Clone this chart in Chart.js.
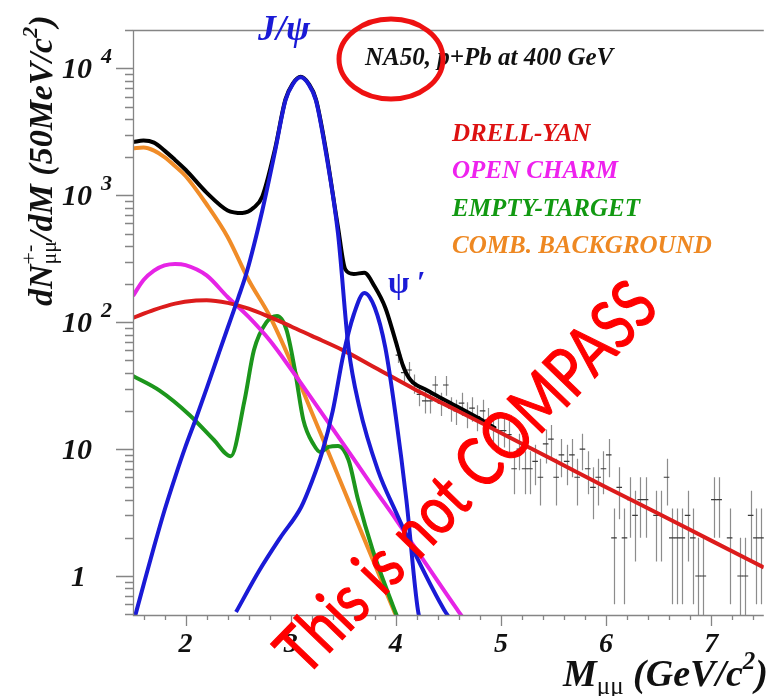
<!DOCTYPE html>
<html>
<head>
<meta charset="utf-8">
<script src="https://cdn.jsdelivr.net/npm/chart.js@4.4.1/dist/chart.umd.min.js"></script>
<style>
  html, body { margin: 0; padding: 0; background: #fff; overflow: hidden; }
  canvas { display: block; }
</style>
</head>
<body>
<canvas id="massChart" width="769" height="696"></canvas>
<script>
// NA50 p+Pb at 400 GeV, dimuon mass spectrum (yield per 50 MeV/c^2)

const dyMass = [1.5, 1.7, 1.9, 2.1, 2.2, 2.4, 2.6, 2.8, 3.0, 3.2, 3.5, 3.8, 4.2, 4.6, 5.0, 5.5, 6.0, 6.5, 7.0, 7.5];
const dyYield = [108, 125, 140, 148, 149, 142, 128, 110, 93, 78, 60, 44, 29, 19.8, 13.4, 8.2, 5.0, 3.1, 1.9, 1.17];

const charmMass = [1.5, 1.6, 1.7, 1.8, 1.9, 2.0, 2.2, 2.4, 2.6, 2.8, 3.0, 3.2, 3.5, 3.8, 4.0, 4.3, 4.6, 4.7];
const charmYield = [161, 215, 255, 280, 288, 282, 234, 158, 110, 72, 43, 25, 11, 4.8, 2.8, 1.2, 0.52, 0.4];

const emptyMass = [1.5, 1.75, 2.04, 2.27, 2.43, 2.56, 2.65, 2.77, 2.87, 2.96, 3.04, 3.12, 3.22, 3.28, 3.36, 3.45, 3.55, 3.64, 3.78, 3.97, 4.05];
const emptyYield = [37.7, 29, 18.5, 11.8, 8.8, 24, 60, 100, 112, 87, 42, 17, 10.8, 9.5, 10.4, 10.6, 8.2, 4, 1.6, 0.59, 0.4];

const combMass = [1.5, 1.6, 1.7, 1.8, 1.9, 2.0, 2.2, 2.4, 2.6, 2.8, 3.0, 3.2, 3.4, 3.6, 3.8, 4.0];
const combYield = [2350, 2380, 2250, 2000, 1700, 1420, 850, 470, 215, 112, 49, 19.5, 7.8, 3.1, 1.23, 0.49];

const jpsiMass = [1.5, 1.6, 1.7, 1.8, 1.9, 2.0, 2.1, 2.2, 2.3, 2.4, 2.5, 2.58, 2.73, 2.85, 2.95, 3.02, 3.095, 3.17, 3.24, 3.33, 3.45, 3.55, 3.65, 3.83, 4.0, 4.2, 4.46, 4.55];
const jpsiYield = [0.42, 0.85, 1.7, 3.3, 6.0, 10.5, 17.5, 30, 52, 90, 155, 245, 760, 2200, 5600, 7500, 8500, 7500, 5600, 2300, 500, 63, 22, 6.8, 3.2, 1.4, 0.54, 0.42];

const psiPMass = [2.48, 2.7, 2.9, 3.1, 3.2, 3.3, 3.4, 3.5, 3.6, 3.7, 3.8, 3.9, 4.0, 4.1, 4.21, 4.3];
const psiPYield = [0.52, 1.1, 2.0, 3.5, 5.5, 9.5, 20, 55, 115, 170, 130, 63, 18, 4, 0.54, 0.3];

const fitMass = [1.5, 1.6, 1.7, 1.8, 1.9, 2.0, 2.2, 2.4, 2.54, 2.65, 2.73, 2.85, 2.95, 3.02, 3.095, 3.17, 3.24, 3.33, 3.45, 3.52, 3.6, 3.7, 3.8, 3.9, 3.99, 4.07, 4.14, 4.3, 4.46, 4.77, 4.95];
const fitYield = [2630, 2700, 2600, 2250, 1900, 1590, 1050, 760, 725, 800, 980, 2300, 5700, 7600, 8600, 7600, 5700, 2400, 560, 260, 240, 245, 190, 130, 75, 45, 35, 29, 24.5, 17.8, 14.5];

// measured points above 4 GeV (bin centres, counts, vertical errors)
const binMass = [
  4.025, 4.075, 4.125, 4.175, 4.225, 4.275, 4.325, 4.375, 4.425, 4.475,
  4.525, 4.575, 4.625, 4.675, 4.725, 4.775, 4.825, 4.875, 4.925, 4.975,
  5.025, 5.075, 5.125, 5.175, 5.225, 5.275, 5.325, 5.375, 5.425, 5.475,
  5.525, 5.575, 5.625, 5.675, 5.725, 5.775, 5.825, 5.875, 5.925, 5.975,
  6.025, 6.075, 6.125, 6.175, 6.225, 6.275, 6.325, 6.375, 6.425, 6.475,
  6.525, 6.575, 6.625, 6.675, 6.725, 6.775, 6.825, 6.875, 6.925, 6.975,
  7.025, 7.075, 7.125, 7.175, 7.225, 7.275, 7.325, 7.375, 7.425, 7.475];
const binCounts = [
  55, 40, 42, 33, 27, 24, 24, 32, 23, 32,
  21, 20, 23, 19, 21, 18, 20, 17, 15, 14,
  14, 13, 7, 10, 7, 7, 8, 6, 11, 12,
  6, 9, 8, 9, 6, 10, 7, 5, 6, 7,
  9, 2, 5, 2, 4, 3, 4, 4, null, 3,
  3, 6, 2, 2, 2, 3, 2, 1, 1, null,
  4, 4, null, 2, null, 1, 1, 3, 2, 2];
const binErrors = [
  7.4, 6.3, 6.5, 5.7, 5.2, 4.9, 4.9, 5.7, 4.8, 5.7,
  4.6, 4.5, 4.8, 4.4, 4.6, 4.2, 4.5, 4.1, 3.9, 3.7,
  3.7, 3.6, 2.6, 3.2, 2.6, 2.6, 2.8, 2.4, 3.3, 3.5,
  2.4, 3.0, 2.8, 3.0, 2.4, 3.2, 2.6, 2.2, 2.4, 2.6,
  3.0, 1.4, 2.2, 1.4, 2.0, 1.7, 2.0, 2.0, null, 1.7,
  1.7, 2.4, 1.4, 1.4, 1.4, 1.7, 1.4, 1.0, 1.0, null,
  2.0, 2.0, null, 1.4, null, 1.0, 1.0, 1.7, 1.4, 1.4];

const xTicks = [2, 3, 4, 5, 6, 7];
const xTickLabels = ['2', '3', '4', '5', '6', '7'];
const yTicks = [1, 10, 100, 1000, 10000];
const yTickLabels = [['1', ''], ['10', ''], ['10', '2'], ['10', '3'], ['10', '4']];

const legendLabels = ['DRELL-YAN', 'OPEN CHARM', 'EMPTY-TARGET', 'COMB. BACKGROUND'];

const C_RED = '#dc1c1c', C_MAG = '#e624e6', C_GREEN = '#1c961c', C_ORANGE = '#f08c28', C_BLUE = '#1a1ad6';
const legendColors = ['#dd1111', '#ee22ee', '#119911', '#ee8822'];

const BI = px => `bold italic ${px}px "Liberation Serif"`;
const RG = px => `${px}px "Liberation Serif"`;

const pts = (mass, vals) => mass.map((m, i) => ({ x: m, y: vals[i] })).filter(p => p.y !== null);

function curve(label, mass, vals, color, order) {
  return {
    type: 'line', label, data: pts(mass, vals), borderColor: color, borderWidth: 4,
    pointRadius: 0, fill: false, cubicInterpolationMode: 'monotone', order, clip: 0
  };
}

// draw text pieces one after another, [text, font, dy]
function rich(ctx, x, y, parts) {
  for (const p of parts) {
    if (Array.isArray(p[0])) {           // stacked sup/sub pair
      let w = 0;
      for (const q of p) { ctx.font = q[1]; ctx.fillText(q[0], x, y + q[2]); w = Math.max(w, ctx.measureText(q[0]).width); }
      x += w;
    } else {
      ctx.font = p[1]; ctx.fillText(p[0], x, y + p[2]);
      x += ctx.measureText(p[0]).width;
    }
  }
  return x;
}

const errorBars = {
  id: 'errorBars',
  beforeDatasetsDraw(chart) {
    const { ctx, chartArea: a, scales: { x, y } } = chart;
    ctx.save();
    ctx.beginPath(); ctx.rect(a.left, a.top, a.right - a.left, a.bottom - a.top); ctx.clip();
    ctx.strokeStyle = '#8c8c8c'; ctx.lineWidth = 1.2;
    binMass.forEach((m, i) => {
      const n = binCounts[i], e = binErrors[i];
      if (n === null) return;
      const px = Math.round(x.getPixelForValue(m)) + 0.5;
      const top = y.getPixelForValue(n + e);
      const bot = n - e > 0 ? y.getPixelForValue(n - e) : a.bottom + 5;
      ctx.beginPath(); ctx.moveTo(px, top); ctx.lineTo(px, bot); ctx.stroke();
    });
    ctx.restore();
  }
};

const rootAxes = {
  id: 'rootAxes',
  afterDatasetsDraw(chart) {
    const { ctx, chartArea: a, scales: { x, y } } = chart;
    ctx.save();
    ctx.strokeStyle = '#858585'; ctx.lineWidth = 1.3;
    ctx.beginPath();
    ctx.moveTo(a.right, a.top + 0.5); ctx.lineTo(a.left + 0.5, a.top + 0.5);
    ctx.lineTo(a.left + 0.5, a.bottom + 0.5); ctx.lineTo(a.right, a.bottom + 0.5);
    ctx.stroke();

    // x ticks (outside, below the frame)
    ctx.beginPath();
    for (let v = 1.6; v < 7.5; v += 0.2) {
      const px = Math.round(x.getPixelForValue(v)) + 0.5;
      const major = Math.abs(v - Math.round(v)) < 0.01;
      ctx.moveTo(px, a.bottom); ctx.lineTo(px, a.bottom + (major ? 11 : 5));
    }
    ctx.stroke();

    // y ticks (outside, left of the frame)
    ctx.beginPath();
    for (let e = -1; e <= 4; e++) {
      for (let k = 1; k <= 9; k++) {
        const v = k * Math.pow(10, e);
        if (v < y.min || v > y.max) continue;
        const py = Math.round(y.getPixelForValue(v)) + 0.5;
        ctx.moveTo(a.left, py); ctx.lineTo(a.left - (k === 1 ? 17 : 8), py);
      }
    }
    ctx.stroke();
    ctx.restore();
  },
  afterDraw(chart) {
    const { ctx, chartArea: a, scales: { x, y } } = chart;
    ctx.save();
    ctx.fillStyle = '#111';
    ctx.textBaseline = 'alphabetic';

    // x tick labels
    ctx.font = BI(28); ctx.textAlign = 'center';
    xTicks.forEach((v, i) => ctx.fillText(xTickLabels[i], x.getPixelForValue(v), 652));

    // y tick labels, "10" with raised exponent
    yTicks.forEach((v, i) => {
      const py = y.getPixelForValue(v);
      ctx.font = BI(30); ctx.textAlign = 'right';
      ctx.fillText(yTickLabels[i][0], yTickLabels[i][0] === '1' ? 86 : 92, py + 10);
      if (yTickLabels[i][1]) {
        ctx.font = BI(22); ctx.textAlign = 'left';
        ctx.fillText(yTickLabels[i][1], 101, py - 5);
      }
    });

    // axis titles
    ctx.textAlign = 'left';
    rich(ctx, 563, 686, [['M', BI(38), 0], ['\u03bc\u03bc', RG(25), 8], [' (GeV/c', BI(38), 0], ['2', BI(25), -17], [')', BI(38), 0]]);

    ctx.save();
    ctx.translate(52, 306);
    ctx.rotate(-Math.PI / 2);
    rich(ctx, 0, 0, [['dN', BI(34), 0], [['+-', RG(22), -16], ['\u03bc\u03bc', RG(22), 4]], ['/dM (50MeV/c', BI(34), 0], ['2', BI(22), -15], [')', BI(34), 0]]);
    ctx.restore();

    // header and legend text
    ctx.font = BI(25);
    ctx.fillText('NA50, p+Pb at 400 GeV', 365, 65);
    legendLabels.forEach((t, i) => {
      ctx.fillStyle = legendColors[i];
      ctx.fillText(t, 452, [141, 178, 216, 253][i]);
    });

    // peak labels
    ctx.fillStyle = C_BLUE;
    ctx.font = BI(36);
    ctx.fillText('J/\u03c8', 258, 40);
    ctx.font = `bold 31px "Liberation Serif"`;
    ctx.fillText('\u03c8 \u2032', 388, 293);

    // red annotation ellipse around the experiment name
    ctx.strokeStyle = '#ee1111'; ctx.lineWidth = 5;
    ctx.beginPath(); ctx.ellipse(391, 59, 52, 40, 0, 0, Math.PI * 2); ctx.stroke();

    // watermark
    ctx.save();
    ctx.translate(483, 494);
    ctx.rotate(-46 * Math.PI / 180);
    ctx.scale(0.8, 1);
    ctx.fillStyle = '#ff0000';
    ctx.strokeStyle = '#ff0000';
    ctx.lineWidth = 1.2;
    ctx.font = '68px Lato';
    ctx.textAlign = 'center';
    ctx.fillText('This is not COMPASS', 0, 0);
    ctx.strokeText('This is not COMPASS', 0, 0);
    ctx.restore();

    ctx.restore();
  }
};

new Chart(document.getElementById('massChart'), {
  type: 'line',
  data: {
    datasets: [
      curve('J/psi', jpsiMass, jpsiYield, C_BLUE, 0),
      curve("psi'", psiPMass, psiPYield, C_BLUE, 0),
      curve('Drell-Yan', dyMass, dyYield, C_RED, 1),
      curve('Open charm', charmMass, charmYield, C_MAG, 2),
      curve('Empty target', emptyMass, emptyYield, C_GREEN, 3),
      curve('Comb. background', combMass, combYield, C_ORANGE, 4),
      curve('Total fit', fitMass, fitYield, '#000', 5),
      {
        type: 'scatter', label: 'Data', order: 6, clip: 0,
        data: pts(binMass, binCounts),
        pointStyle: 'line', pointRadius: 2.8, borderColor: '#3a3a3a', borderWidth: 1.2, showLine: false
      }
    ]
  },
  options: {
    responsive: false,
    devicePixelRatio: 1,
    animation: false,
    layout: { padding: { left: 133, top: 30, right: 0, bottom: 81 } },
    scales: {
      x: { type: 'linear', min: 1.5, max: 7.5, display: false },
      y: { type: 'logarithmic', min: 0.493, max: 20070, display: false }
    },
    plugins: { legend: { display: false }, tooltip: { enabled: false } }
  },
  plugins: [errorBars, rootAxes]
});
</script>
</body>
</html>
